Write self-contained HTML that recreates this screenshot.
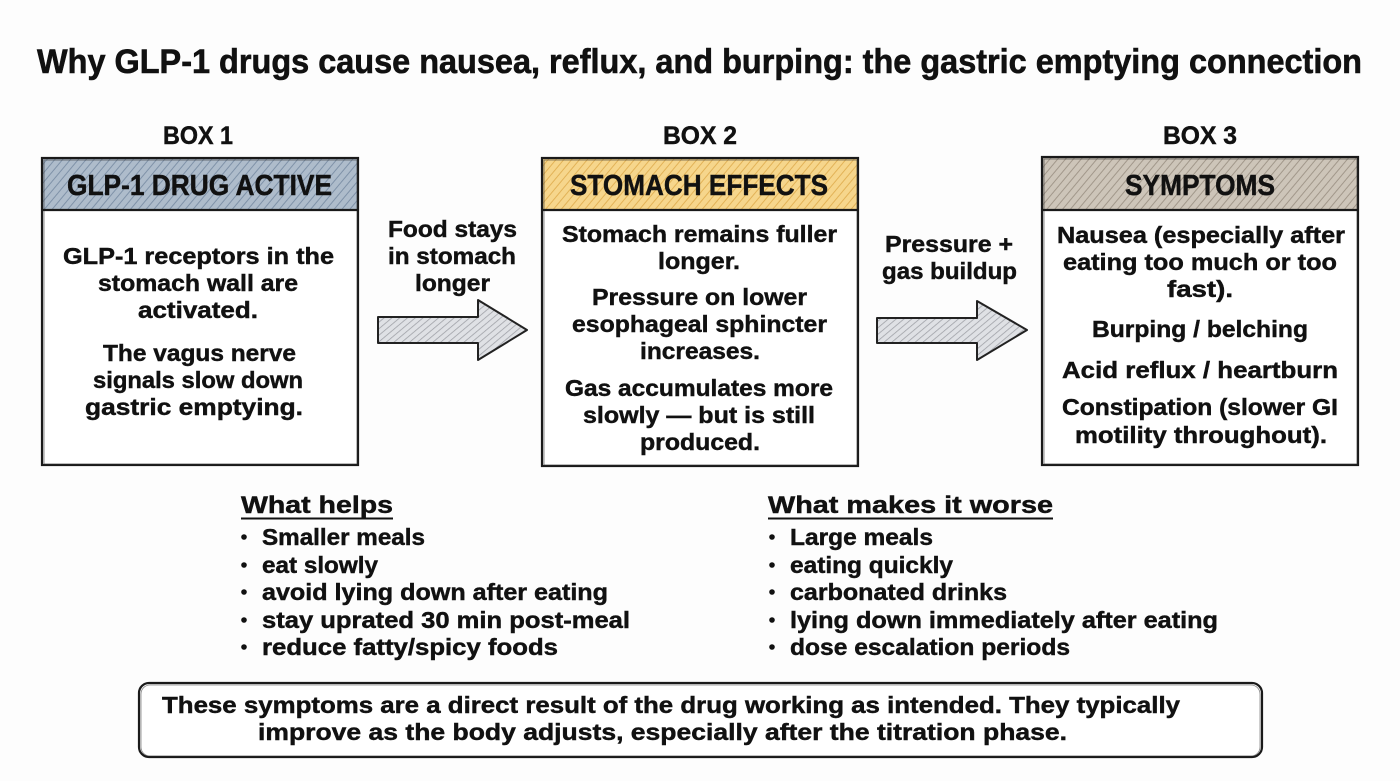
<!DOCTYPE html>
<html>
<head>
<meta charset="utf-8">
<style>
  html,body{margin:0;padding:0;background:#fdfdfd;}
  svg{display:block;}
  text{font-family:"Liberation Sans","DejaVu Sans",sans-serif;font-weight:bold;fill:#111;stroke:#111;stroke-width:0.45px;}
</style>
</head>
<body>
<svg width="1400" height="781" viewBox="0 0 1400 781" xmlns="http://www.w3.org/2000/svg">
  <defs>
    <pattern id="hBlue" width="6" height="6" patternUnits="userSpaceOnUse" patternTransform="rotate(40)">
      <rect width="6" height="6" fill="#aebccb"/>
      <line x1="0" y1="0" x2="0" y2="6" stroke="#7f92a8" stroke-width="2"/>
    </pattern>
    <pattern id="hYel" width="6" height="6" patternUnits="userSpaceOnUse" patternTransform="rotate(40)">
      <rect width="6" height="6" fill="#f6d68c"/>
      <line x1="0" y1="0" x2="0" y2="6" stroke="#e2b257" stroke-width="2"/>
    </pattern>
    <pattern id="hTau" width="6" height="6" patternUnits="userSpaceOnUse" patternTransform="rotate(40)">
      <rect width="6" height="6" fill="#cdc5b9"/>
      <line x1="0" y1="0" x2="0" y2="6" stroke="#a1978a" stroke-width="2"/>
    </pattern>
    <pattern id="hGrey" width="5" height="5" patternUnits="userSpaceOnUse" patternTransform="rotate(50)">
      <rect width="5" height="5" fill="#dfe1e5"/>
      <line x1="0" y1="0" x2="0" y2="5" stroke="#9c9ea4" stroke-width="1.5"/>
    </pattern>
  </defs>

  <!-- Title -->
  <text x="37" y="73" font-size="34" textLength="1325" lengthAdjust="spacingAndGlyphs" style="stroke-width:0.6px">Why GLP-1 drugs cause nausea, reflux, and burping: the gastric emptying connection</text>

  <!-- Box labels -->
  <text x="163" y="144" font-size="25" textLength="70" lengthAdjust="spacingAndGlyphs">BOX 1</text>
  <text x="663" y="144" font-size="25" textLength="74" lengthAdjust="spacingAndGlyphs">BOX 2</text>
  <text x="1163" y="144" font-size="25" textLength="74" lengthAdjust="spacingAndGlyphs">BOX 3</text>

  <!-- Box 1 -->
  <rect x="42" y="158" width="316" height="52" fill="url(#hBlue)"/>
  <rect x="42" y="210" width="316" height="255" fill="#ffffff"/>
  <rect x="42" y="158" width="316" height="307" fill="none" stroke="#1a1a1a" stroke-width="2.2"/>
  <rect x="44" y="160" width="313" height="304" fill="none" stroke="#333" stroke-width="0.8" opacity="0.7"/>
  <line x1="42" y1="210" x2="358" y2="210" stroke="#1a1a1a" stroke-width="2.2"/>
  <text x="67" y="195" font-size="29" textLength="265" lengthAdjust="spacingAndGlyphs">GLP-1 DRUG ACTIVE</text>
  <text x="63" y="264" font-size="23" textLength="271" lengthAdjust="spacingAndGlyphs">GLP-1 receptors in the</text>
  <text x="98" y="291" font-size="23" textLength="200" lengthAdjust="spacingAndGlyphs">stomach wall are</text>
  <text x="138" y="318" font-size="23" textLength="120" lengthAdjust="spacingAndGlyphs">activated.</text>
  <text x="103" y="361" font-size="23" textLength="193" lengthAdjust="spacingAndGlyphs">The vagus nerve</text>
  <text x="93" y="388" font-size="23" textLength="210" lengthAdjust="spacingAndGlyphs">signals slow down</text>
  <text x="85" y="415" font-size="23" textLength="218" lengthAdjust="spacingAndGlyphs">gastric emptying.</text>

  <!-- Arrow 1 -->
  <text x="388" y="237" font-size="23" textLength="129" lengthAdjust="spacingAndGlyphs">Food stays</text>
  <text x="388" y="264" font-size="23" textLength="128" lengthAdjust="spacingAndGlyphs">in stomach</text>
  <text x="415" y="291" font-size="23" textLength="75" lengthAdjust="spacingAndGlyphs">longer</text>
  <polygon points="378,317 478,317 478,300 527,330 478,360 478,343 378,343" fill="url(#hGrey)" stroke="#222" stroke-width="2" stroke-linejoin="round"/>

  <!-- Box 2 -->
  <rect x="542" y="158" width="316" height="52" fill="url(#hYel)"/>
  <rect x="542" y="210" width="316" height="256" fill="#ffffff"/>
  <rect x="542" y="158" width="316" height="308" fill="none" stroke="#1a1a1a" stroke-width="2.2"/>
  <rect x="544" y="160" width="313" height="305" fill="none" stroke="#333" stroke-width="0.8" opacity="0.7"/>
  <line x1="542" y1="210" x2="858" y2="210" stroke="#1a1a1a" stroke-width="2.2"/>
  <text x="570" y="195" font-size="29" textLength="258" lengthAdjust="spacingAndGlyphs">STOMACH EFFECTS</text>
  <text x="562" y="242" font-size="23" textLength="275" lengthAdjust="spacingAndGlyphs">Stomach remains fuller</text>
  <text x="658" y="269" font-size="23" textLength="82" lengthAdjust="spacingAndGlyphs">longer.</text>
  <text x="592" y="305" font-size="23" textLength="215" lengthAdjust="spacingAndGlyphs">Pressure on lower</text>
  <text x="572" y="332" font-size="23" textLength="255" lengthAdjust="spacingAndGlyphs">esophageal sphincter</text>
  <text x="640" y="359" font-size="23" textLength="120" lengthAdjust="spacingAndGlyphs">increases.</text>
  <text x="565" y="396" font-size="23" textLength="268" lengthAdjust="spacingAndGlyphs">Gas accumulates more</text>
  <text x="583" y="423" font-size="23" textLength="232" lengthAdjust="spacingAndGlyphs">slowly — but is still</text>
  <text x="640" y="450" font-size="23" textLength="120" lengthAdjust="spacingAndGlyphs">produced.</text>

  <!-- Arrow 2 -->
  <text x="885" y="252" font-size="23" textLength="128" lengthAdjust="spacingAndGlyphs">Pressure +</text>
  <text x="882" y="279" font-size="23" textLength="135" lengthAdjust="spacingAndGlyphs">gas buildup</text>
  <polygon points="877,318 977,318 977,301 1027,330 977,360 977,343 877,343" fill="url(#hGrey)" stroke="#222" stroke-width="2" stroke-linejoin="round"/>

  <!-- Box 3 -->
  <rect x="1042" y="157" width="316" height="53" fill="url(#hTau)"/>
  <rect x="1042" y="210" width="316" height="255" fill="#ffffff"/>
  <rect x="1042" y="157" width="316" height="308" fill="none" stroke="#1a1a1a" stroke-width="2.2"/>
  <rect x="1044" y="159" width="313" height="305" fill="none" stroke="#333" stroke-width="0.8" opacity="0.7"/>
  <line x1="1042" y1="210" x2="1358" y2="210" stroke="#1a1a1a" stroke-width="2.2"/>
  <text x="1125" y="195" font-size="29" textLength="150" lengthAdjust="spacingAndGlyphs">SYMPTOMS</text>
  <text x="1057" y="243" font-size="23" textLength="288" lengthAdjust="spacingAndGlyphs">Nausea (especially after</text>
  <text x="1063" y="270" font-size="23" textLength="274" lengthAdjust="spacingAndGlyphs">eating too much or too</text>
  <text x="1167" y="297" font-size="23" textLength="66" lengthAdjust="spacingAndGlyphs">fast).</text>
  <text x="1092" y="337" font-size="23" textLength="216" lengthAdjust="spacingAndGlyphs">Burping / belching</text>
  <text x="1062" y="378" font-size="23" textLength="276" lengthAdjust="spacingAndGlyphs">Acid reflux / heartburn</text>
  <text x="1062" y="415" font-size="23" textLength="276" lengthAdjust="spacingAndGlyphs">Constipation (slower GI</text>
  <text x="1075" y="443" font-size="23" textLength="252" lengthAdjust="spacingAndGlyphs">motility throughout).</text>

  <!-- What helps -->
  <text x="241" y="513" font-size="24" textLength="152" lengthAdjust="spacingAndGlyphs">What helps</text>
  <line x1="241" y1="518.5" x2="393" y2="518.5" stroke="#111" stroke-width="2"/>
  <g fill="#111">
    <circle cx="244" cy="537" r="2.8"/>
    <circle cx="244" cy="565" r="2.8"/>
    <circle cx="244" cy="592" r="2.8"/>
    <circle cx="244" cy="620" r="2.8"/>
    <circle cx="244" cy="647" r="2.8"/>
  </g>
  <text x="262" y="545" font-size="23" textLength="163" lengthAdjust="spacingAndGlyphs">Smaller meals</text>
  <text x="262" y="573" font-size="23" textLength="116" lengthAdjust="spacingAndGlyphs">eat slowly</text>
  <text x="262" y="600" font-size="23" textLength="346" lengthAdjust="spacingAndGlyphs">avoid lying down after eating</text>
  <text x="262" y="628" font-size="23" textLength="368" lengthAdjust="spacingAndGlyphs">stay uprated 30 min post-meal</text>
  <text x="262" y="655" font-size="23" textLength="296" lengthAdjust="spacingAndGlyphs">reduce fatty/spicy foods</text>

  <!-- What makes it worse -->
  <text x="768" y="513" font-size="24" textLength="285" lengthAdjust="spacingAndGlyphs">What makes it worse</text>
  <line x1="768" y1="518.5" x2="1053" y2="518.5" stroke="#111" stroke-width="2"/>
  <g fill="#111">
    <circle cx="772" cy="537" r="2.8"/>
    <circle cx="772" cy="565" r="2.8"/>
    <circle cx="772" cy="592" r="2.8"/>
    <circle cx="772" cy="620" r="2.8"/>
    <circle cx="772" cy="647" r="2.8"/>
  </g>
  <text x="790" y="545" font-size="23" textLength="143" lengthAdjust="spacingAndGlyphs">Large meals</text>
  <text x="790" y="573" font-size="23" textLength="163" lengthAdjust="spacingAndGlyphs">eating quickly</text>
  <text x="790" y="600" font-size="23" textLength="217" lengthAdjust="spacingAndGlyphs">carbonated drinks</text>
  <text x="790" y="628" font-size="23" textLength="428" lengthAdjust="spacingAndGlyphs">lying down immediately after eating</text>
  <text x="790" y="655" font-size="23" textLength="280" lengthAdjust="spacingAndGlyphs">dose escalation periods</text>

  <!-- Bottom note -->
  <rect x="139" y="683" width="1123" height="74" rx="10" ry="10" fill="#ffffff" stroke="#1a1a1a" stroke-width="2.2"/>
  <rect x="141" y="685" width="1119" height="71" rx="9" ry="9" fill="none" stroke="#333" stroke-width="0.8" opacity="0.6"/>
  <text x="162" y="713" font-size="23" textLength="1018" lengthAdjust="spacingAndGlyphs">These symptoms are a direct result of the drug working as intended. They typically</text>
  <text x="258" y="740" font-size="23" textLength="809" lengthAdjust="spacingAndGlyphs">improve as the body adjusts, especially after the titration phase.</text>
</svg>
</body>
</html>
